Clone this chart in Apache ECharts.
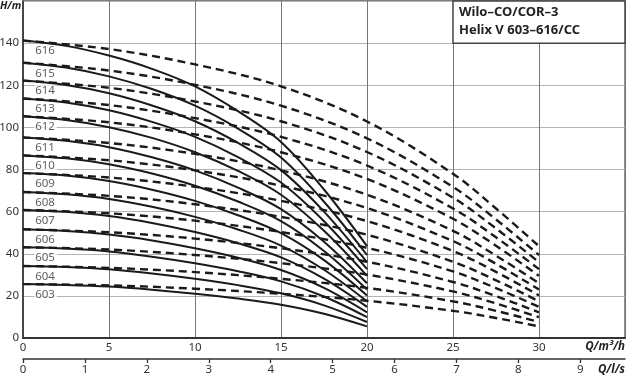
<!DOCTYPE html>
<html>
<head>
<meta charset="utf-8">
<script src="https://cdn.jsdelivr.net/npm/echarts@6/dist/echarts.min.js"></script>
<style>
html,body{margin:0;padding:0;background:#fff;}
#chart{width:640px;height:379px;}
</style>
</head>
<body>
<div id="chart"></div>
<script>
// ---- data ----
const pumpNames = ['603','604','605','606','607','608','609','610','611','612','613','614','615','616'];
const qTicksM3h = [0, 5, 10, 15, 20, 25, 30];
const qTicksLs = [0, 1, 2, 3, 4, 5, 6, 7, 8, 9];
const hTicks = [0, 20, 40, 60, 80, 100, 120, 140];

// single-curve (solid) flow points, m3/h
const solidQ = [0, 2.5, 5, 7.5, 10, 12.5, 15, 17.5, 20];
const solid603 = [25.6, 25.2, 24.4, 22.9, 21.0, 18.7, 15.8, 11.5, 5.5];
const solid604 = [34.2, 33.7, 32.6, 30.6, 28.1, 25.1, 21.2, 15.5, 7.6];
const solid605 = [43.1, 42.5, 41.1, 38.6, 35.5, 31.7, 26.9, 19.7, 9.9];
const solid606 = [51.6, 50.8, 49.1, 46.3, 42.6, 38.1, 32.3, 23.8, 12.2];
const solid607 = [60.8, 59.9, 57.9, 54.6, 50.3, 45.0, 38.3, 28.2, 14.8];
const solid608 = [69.3, 68.2, 66.0, 62.3, 57.5, 51.5, 43.9, 32.4, 17.4];
const solid609 = [78.3, 77.1, 74.5, 70.4, 65.1, 58.3, 49.8, 37.0, 20.2];
const solid610 = [86.7, 85.3, 82.5, 78.1, 72.3, 64.8, 55.5, 41.3, 23.0];
const solid611 = [95.2, 93.6, 90.6, 85.8, 79.6, 71.4, 61.2, 45.7, 26.0];
const solid612 = [105.3, 103.5, 100.1, 95.0, 88.2, 79.3, 68.0, 50.9, 29.5];
const solid613 = [113.7, 111.8, 108.1, 102.6, 95.5, 85.9, 73.8, 55.4, 32.7];
const solid614 = [122.2, 120.1, 116.2, 110.4, 102.9, 92.6, 79.7, 60.0, 36.0];
const solid615 = [130.7, 128.4, 124.2, 118.2, 110.3, 99.4, 85.7, 64.7, 39.4];
const solid616 = [141.2, 138.7, 134.1, 127.8, 119.5, 107.7, 93.1, 70.5, 43.6];

// system (dashed) flow points, m3/h
const dashedQ = [0, 5, 10, 15, 20, 25, 27.5, 30];
const dashed603 = [25.6, 25.0, 23.4, 21.0, 17.7, 12.9, 9.5, 5.5];
const dashed604 = [34.2, 33.3, 31.3, 28.1, 23.8, 17.4, 12.9, 7.6];
const dashed605 = [43.1, 42.0, 39.4, 35.5, 30.1, 22.1, 16.4, 9.9];
const dashed606 = [51.6, 50.2, 47.2, 42.6, 36.2, 26.6, 19.9, 12.2];
const dashed607 = [60.8, 59.2, 55.7, 50.3, 42.8, 31.6, 23.7, 14.8];
const dashed608 = [69.3, 67.5, 63.5, 57.5, 49.0, 36.2, 27.4, 17.4];
const dashed609 = [78.3, 76.2, 71.8, 65.1, 55.5, 41.3, 31.4, 20.2];
const dashed610 = [86.7, 84.4, 79.6, 72.3, 61.7, 46.0, 35.2, 23.0];
const dashed611 = [95.2, 92.6, 87.4, 79.6, 68.0, 50.9, 39.1, 26.0];
const dashed612 = [105.3, 102.4, 96.7, 88.2, 75.5, 56.6, 43.8, 29.5];
const dashed613 = [113.7, 110.6, 104.4, 95.5, 81.9, 61.5, 47.8, 32.7];
const dashed614 = [122.2, 118.8, 112.3, 102.9, 88.3, 66.6, 52.0, 36.0];
const dashed615 = [130.7, 127.0, 120.2, 110.3, 94.8, 71.7, 56.3, 39.4];
const dashed616 = [141.2, 137.2, 129.9, 119.5, 102.8, 78.0, 61.5, 43.6];

const solidHeads = [solid603, solid604, solid605, solid606, solid607, solid608, solid609,
  solid610, solid611, solid612, solid613, solid614, solid615, solid616];
const dashedHeads = [dashed603, dashed604, dashed605, dashed606, dashed607, dashed608, dashed609,
  dashed610, dashed611, dashed612, dashed613, dashed614, dashed615, dashed616];

const titleLines = ['Wilo\u2013CO/COR\u20133', 'Helix V 603\u2013616/CC'];

// ---- layout / style ----
const FONT = 'Noto Sans';
const G = {left: 23, top: 1, width: 602, height: 337};
const X_MAX = 35, Y_MAX = 160;
const LINE_COLOR = '#1a1a1a';
const LABEL_X = 0.65;    // label anchor flow
const LABEL_DROP = 5;    // label below shutoff head

const chart = echarts.init(document.getElementById('chart'), null, {renderer: 'canvas'});

const series = [];
pumpNames.forEach((name, i) => {
  series.push({
    type: 'line', name: name + ' dashed', xAxisIndex: 0, yAxisIndex: 0,
    data: dashedQ.map((q, j) => [q, dashedHeads[i][j]]),
    smooth: 0.35, symbol: 'none', silent: true, z: 3,
    lineStyle: {color: LINE_COLOR, width: 2.4, type: [8, 5]}
  });
  series.push({
    type: 'line', name: name, xAxisIndex: 0, yAxisIndex: 0,
    data: solidQ.map((q, j) => [q, solidHeads[i][j]]),
    smooth: 0.35, symbol: 'none', silent: true, z: 4,
    lineStyle: {color: LINE_COLOR, width: 2}
  });
});
series.push({
  type: 'scatter', name: 'labels', xAxisIndex: 0, yAxisIndex: 0, z: 2, silent: true,
  symbolSize: 0,
  data: pumpNames.map((n, i) => ({name: n, value: [LABEL_X, solidHeads[i][0] - LABEL_DROP]})),
  label: {
    show: true, position: 'right', distance: 0, formatter: '{b}',
    fontFamily: FONT, fontSize: 11.5, color: '#333',
    backgroundColor: '#fff', padding: [0, 2, 0, 1]
  }
});

const boxX = G.left + G.width * 25 / X_MAX;
const boxBottom = G.top + G.height * (Y_MAX - 140) / Y_MAX;

const option = {
  animation: false,
  backgroundColor: '#fff',
  grid: {left: G.left, top: G.top, width: G.width, height: G.height, show: true,
         outerBoundsMode: 'none', containLabel: false,
         borderColor: '#555', borderWidth: 1.3, backgroundColor: 'transparent'},
  xAxis: [
    {
      type: 'value', min: 0, max: X_MAX, interval: 5, position: 'bottom', gridIndex: 0,
      axisLine: {show: true, lineStyle: {color: '#333', width: 2}},
      axisTick: {show: false},
      axisLabel: {fontFamily: FONT, fontSize: 11.5, color: '#333', margin: 4, showMaxLabel: false,
        formatter: v => qTicksM3h.indexOf(v) >= 0 ? String(v) : ''},
      splitLine: {show: true, lineStyle: {color: '#777', width: 1}}
    },
    {
      type: 'value', min: 0, max: X_MAX / 3.6, interval: 1, position: 'bottom', offset: 21, gridIndex: 0,
      axisLine: {show: true, onZero: false, lineStyle: {color: '#333', width: 1.5}},
      axisTick: {show: true, length: 4, lineStyle: {color: '#333', width: 1.3}},
      axisLabel: {fontFamily: FONT, fontSize: 11.5, color: '#333', margin: 5, showMaxLabel: false,
        formatter: v => qTicksLs.indexOf(v) >= 0 ? String(v) : ''},
      splitLine: {show: false}
    }
  ],
  yAxis: {
    type: 'value', min: 0, max: Y_MAX, interval: 20,
    axisLine: {show: true, lineStyle: {color: '#333', width: 1.5}},
    axisTick: {show: false},
    axisLabel: {fontFamily: FONT, fontSize: 11.5, color: '#333', margin: 4,
      formatter: v => hTicks.indexOf(v) >= 0 ? String(v) : ''},
    splitLine: {show: true, lineStyle: {color: '#b4b4b4', width: 1}}
  },
  series: series,
  graphic: [
    {type: 'rect', z: 50, shape: {x: boxX, y: G.top, width: G.left + G.width - boxX, height: boxBottom - G.top},
     style: {fill: '#fff', stroke: '#444', lineWidth: 1.5}},
    {type: 'text', z: 51, left: boxX + 6, top: 6,
     style: {text: titleLines[0], font: 'bold 13px "' + FONT + '"', fill: '#222'}},
    {type: 'text', z: 51, left: boxX + 6, top: 24,
     style: {text: titleLines[1], font: 'bold 13px "' + FONT + '"', fill: '#222'}},
    {type: 'text', z: 51, left: 0, top: 1,
     style: {text: 'H/m', font: 'italic bold 10.5px "' + FONT + '"', fill: '#222'}},
    {type: 'text', z: 51, right: 15, top: 341,
     style: {text: 'Q/m\u00b3/h', font: 'italic bold 11.5px "' + FONT + '"', fill: '#222'}},
    {type: 'text', z: 51, right: 15, top: 364,
     style: {text: 'Q/l/s', font: 'italic bold 11.5px "' + FONT + '"', fill: '#222'}}
  ]
};
chart.setOption(option);
</script>
</body>
</html>
